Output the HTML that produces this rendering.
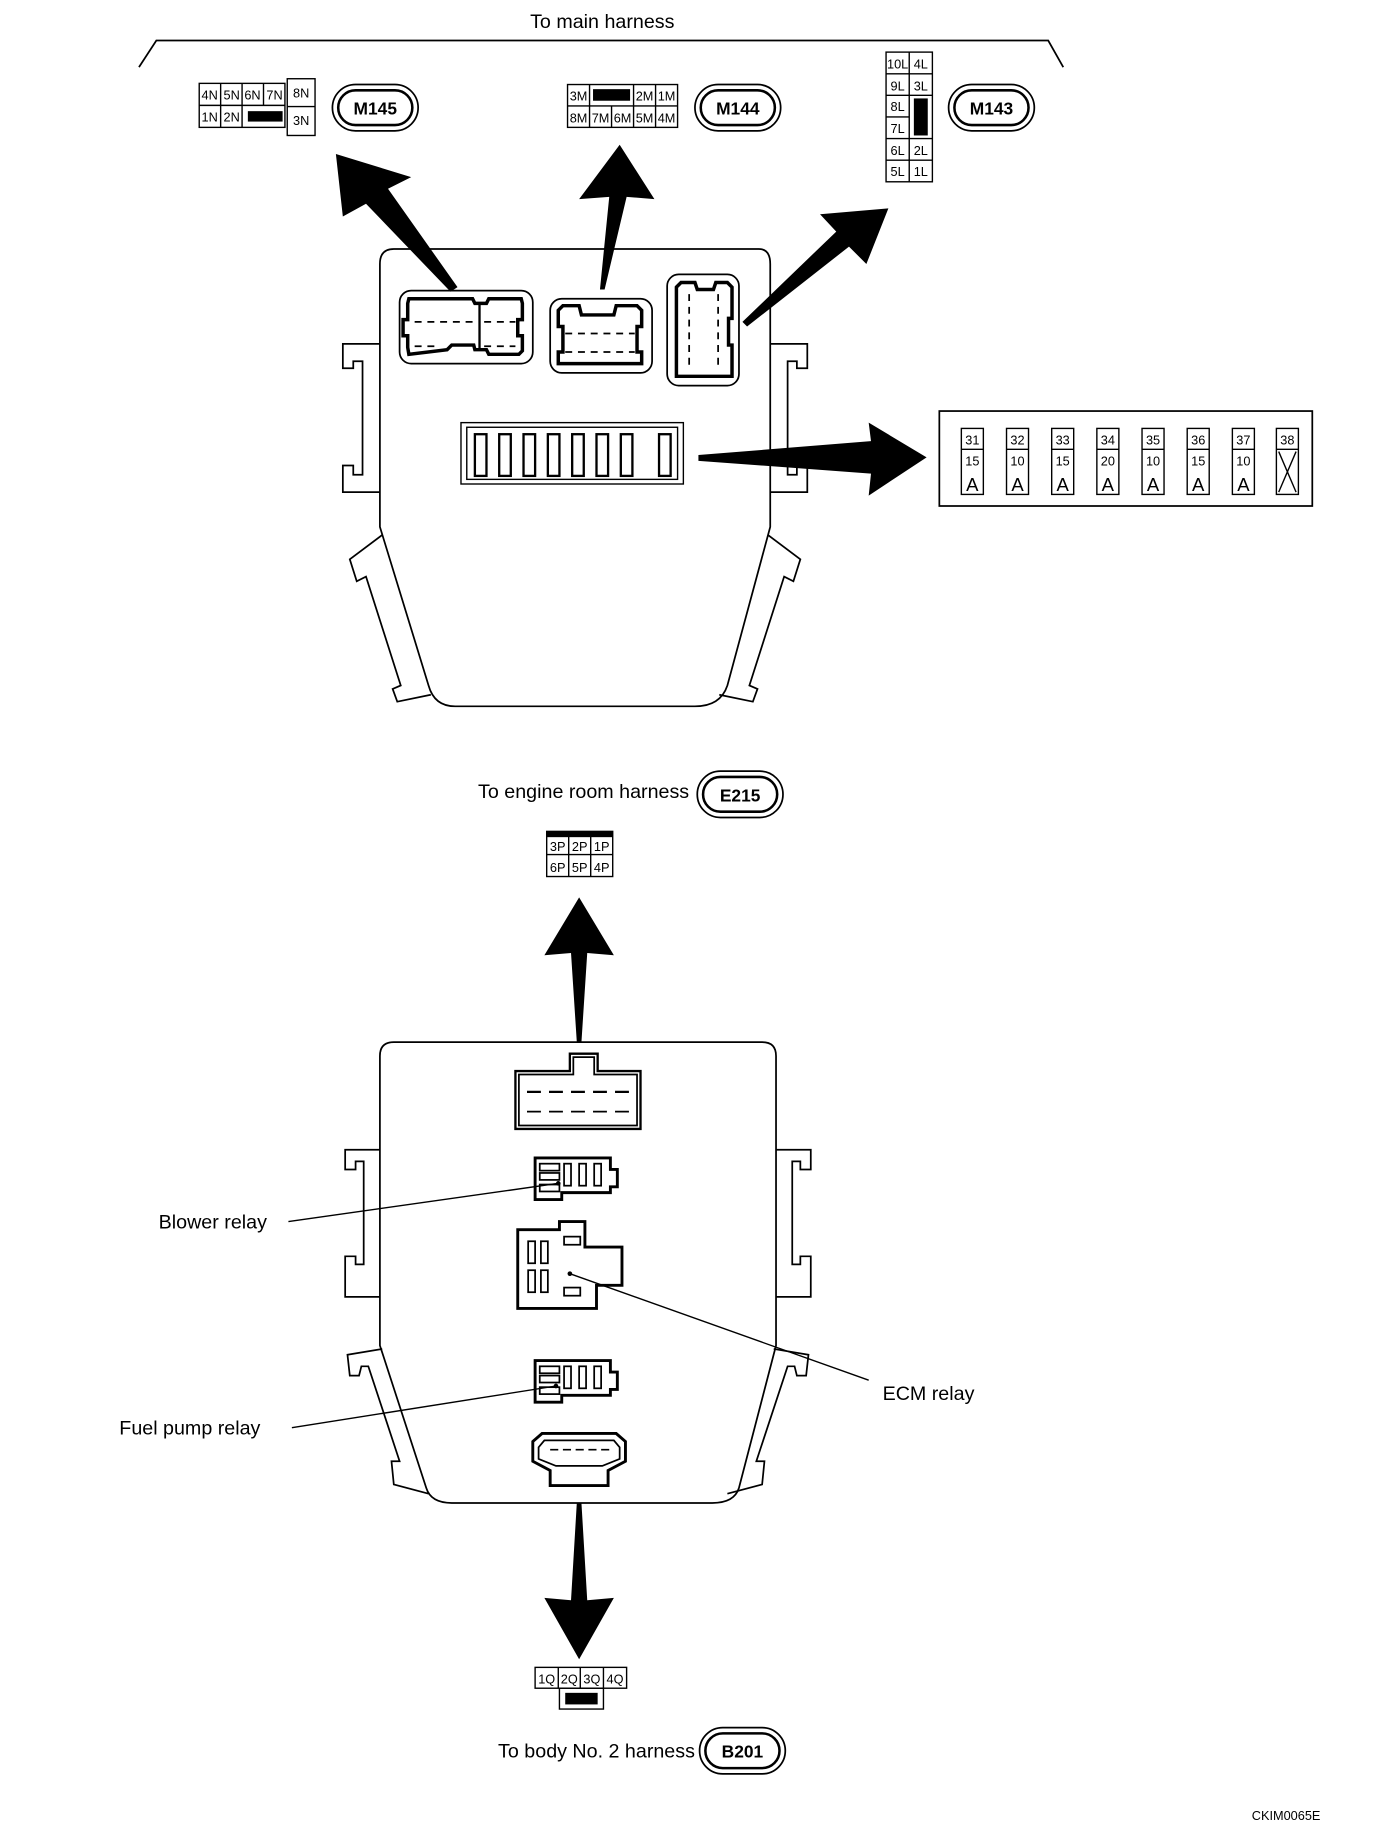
<!DOCTYPE html>
<html><head><meta charset="utf-8"><style>
html,body{margin:0;padding:0;background:#fff}
svg{display:block}
text{font-family:"Liberation Sans",sans-serif;fill:#000}
.c{font-size:11px;text-anchor:middle}
.l{font-size:17px}
</style></head><body>
<svg width="1376" height="1826" viewBox="0 0 1188 1577" preserveAspectRatio="none" xmlns="http://www.w3.org/2000/svg">
<g fill="none" stroke="#000" stroke-width="1.5">
<polyline points="120,58 135,35 905,35 918,58"/>
</g>
<text class="l" x="520" y="24" text-anchor="middle">To main harness</text>

<g fill="none" stroke="#000" stroke-width="1.2">
<rect x="172" y="72" width="74" height="38"/>
<line x1="172" y1="91" x2="246" y2="91"/>
<line x1="190.5" y1="72" x2="190.5" y2="110"/><line x1="209" y1="72" x2="209" y2="110"/><line x1="227.5" y1="72" x2="227.5" y2="91"/>
<rect x="248" y="68" width="24" height="49"/><line x1="248" y1="92" x2="272" y2="92"/>
</g>
<rect x="214" y="96" width="30" height="9" fill="#000"/>
<text class="c" x="181" y="86">4N</text><text class="c" x="200" y="86">5N</text><text class="c" x="218" y="86">6N</text><text class="c" x="237" y="86">7N</text><text class="c" x="260" y="84">8N</text>
<text class="c" x="181" y="105">1N</text><text class="c" x="200" y="105">2N</text><text class="c" x="260" y="108">3N</text>
<g fill="none" stroke="#000" stroke-width="1.2">
<rect x="490" y="73" width="95" height="37"/><line x1="490" y1="91.5" x2="585" y2="91.5"/>
<line x1="509" y1="73" x2="509" y2="110"/><line x1="528" y1="91.5" x2="528" y2="110"/><line x1="547" y1="73" x2="547" y2="110"/><line x1="566" y1="73" x2="566" y2="110"/>
</g>
<rect x="512" y="77" width="32" height="10" fill="#000"/>
<text class="c" x="499.5" y="87">3M</text><text class="c" x="556.5" y="87">2M</text><text class="c" x="575.5" y="87">1M</text>
<text class="c" x="499.5" y="106">8M</text><text class="c" x="518.5" y="106">7M</text><text class="c" x="537.5" y="106">6M</text><text class="c" x="556.5" y="106">5M</text><text class="c" x="575.5" y="106">4M</text>
<g fill="none" stroke="#000" stroke-width="1.2">
<rect x="765" y="45" width="40" height="112"/><line x1="785" y1="45" x2="785" y2="157"/>
<line x1="765" y1="63.7" x2="805" y2="63.7"/><line x1="765" y1="82.3" x2="805" y2="82.3"/><line x1="765" y1="101" x2="785" y2="101"/><line x1="765" y1="119.7" x2="805" y2="119.7"/><line x1="765" y1="138.3" x2="805" y2="138.3"/>
</g>
<rect x="789" y="85" width="12" height="32" fill="#000"/>
<text class="c" x="775" y="59">10L</text><text class="c" x="795" y="59">4L</text>
<text class="c" x="775" y="78">9L</text><text class="c" x="795" y="78">3L</text>
<text class="c" x="775" y="96">8L</text><text class="c" x="775" y="115">7L</text>
<text class="c" x="775" y="134">6L</text><text class="c" x="795" y="134">2L</text>
<text class="c" x="775" y="152">5L</text><text class="c" x="795" y="152">1L</text>

<g fill="none" stroke="#000" stroke-width="1.5">
<rect x="287" y="73" width="74" height="40" rx="20"/><rect x="292" y="78" width="64" height="30" rx="15" stroke-width="2.2"/>
<rect x="600" y="73" width="74" height="40" rx="20"/><rect x="605" y="78" width="64" height="30" rx="15" stroke-width="2.2"/>
<rect x="819" y="73" width="74" height="40" rx="20"/><rect x="824" y="78" width="64" height="30" rx="15" stroke-width="2.2"/>
<rect x="602" y="666" width="74" height="40" rx="20"/><rect x="607" y="671" width="64" height="30" rx="15" stroke-width="2.2"/>
<rect x="604" y="1492" width="74" height="40" rx="20"/><rect x="609" y="1497" width="64" height="30" rx="15" stroke-width="2.2"/>
</g>
<text x="324" y="99" text-anchor="middle" font-weight="bold" font-size="15">M145</text>
<text x="637" y="99" text-anchor="middle" font-weight="bold" font-size="15">M144</text>
<text x="856" y="99" text-anchor="middle" font-weight="bold" font-size="15">M143</text>
<text x="639" y="692" text-anchor="middle" font-weight="bold" font-size="15">E215</text>
<text x="641" y="1518" text-anchor="middle" font-weight="bold" font-size="15">B201</text>

<g fill="#000">
<polygon points="290,133 355,153 335,163 395,248 389,252 316,176 296,187"/>
<polygon points="535,125 565,172 541,170 522,250 518,250 526,170 500,172"/>
<polygon points="767,180 748,228 733,213 645,282 641,278 722,200 708,185"/>
<polygon points="603,393 752,381 750,365 800,395 750,428 752,409 603,398"/>
<polygon points="500,775 530,825 507,823 502,900 498,900 493,823 470,825"/>
<polygon points="500,1433 530,1380 507,1382 502,1298 498,1298 493,1382 470,1380"/>
</g>

<g fill="none" stroke="#000" stroke-width="1.5">
<path d="M340,215 L655,215 Q665,215 665,228 L665,455 L628,592 Q622,610 600,610 L393,610 Q375,610 370,592 L328,455 L328,228 Q328,215 340,215 Z"/>
<path d="M328,297 L296,297 L296,318 L305,318 L305,312 L313,312 L313,410 L305,410 L305,402 L296,402 L296,425 L328,425"/>
<path d="M665,297 L697,297 L697,318 L688,318 L688,312 L680,312 L680,410 L688,410 L688,402 L697,402 L697,425 L665,425"/>
<path d="M330,462 L302,483 L308,502 L316,498 L346,592 L339,595 L343,606 L372,600"/>
<path d="M663,462 L691,483 L685,502 L677,498 L647,592 L654,595 L650,606 L621,600"/>
<rect x="345" y="251" width="115" height="63" rx="10"/>
<path d="M352,262 L353,258 L408,258 L410,262 L420,262 L422,258 L450,258 L451,262 L451,276 L447,276 L447,290 L451,290 L451,303 L448,306 L422,306 L420,302 L410,302 L409,298 L390,298 L386,302 L353,306 L352,300 L352,290 L348,290 L348,276 L352,276 Z" stroke-width="3"/>
<line x1="414" y1="262" x2="414" y2="302" stroke-width="2"/>
<line x1="358" y1="278" x2="408" y2="278" stroke-dasharray="6,5"/><line x1="418" y1="278" x2="445" y2="278" stroke-dasharray="6,5"/>
<line x1="358" y1="299" x2="380" y2="299" stroke-dasharray="6,5"/><line x1="418" y1="299" x2="445" y2="299" stroke-dasharray="6,5"/>
<rect x="475" y="258" width="88" height="64" rx="10"/>
<path d="M482,268 L486,264 L500,264 L502,272 L530,272 L532,264 L550,264 L554,268 L554,282 L550,282 L550,304 L554,304 L554,314 L482,314 L482,304 L486,304 L486,282 L482,282 Z" stroke-width="3"/>
<line x1="488" y1="288" x2="548" y2="288" stroke-dasharray="6,5"/><line x1="488" y1="304" x2="548" y2="304" stroke-dasharray="6,5"/>
<rect x="576" y="237" width="62" height="96" rx="10"/>
<path d="M584,248 L588,244 L600,244 L602,250 L616,250 L618,244 L628,244 L632,248 L632,275 L629,275 L629,298 L632,298 L632,325 L584,325 Z" stroke-width="3"/>
<line x1="595" y1="254" x2="595" y2="318" stroke-dasharray="6,5"/><line x1="620" y1="254" x2="620" y2="318" stroke-dasharray="6,5"/>
<rect x="398" y="365" width="192" height="53" stroke-width="1.2"/>
<rect x="403" y="369" width="182" height="45" stroke-width="1.2"/>
<g stroke-width="2">
<rect x="410" y="375" width="10" height="36"/><rect x="431" y="375" width="10" height="36"/><rect x="452" y="375" width="10" height="36"/><rect x="473" y="375" width="10" height="36"/>
<rect x="494" y="375" width="10" height="36"/><rect x="515" y="375" width="10" height="36"/><rect x="536" y="375" width="10" height="36"/><rect x="569" y="375" width="10" height="36"/>
</g>
<rect x="811" y="355" width="322" height="82" stroke-width="1.5"/>
</g>
<g fill="none" stroke="#000" stroke-width="1.2">
<rect x="830" y="370" width="19" height="57"/><line x1="830" y1="388" x2="849" y2="388"/>
<rect x="869" y="370" width="19" height="57"/><line x1="869" y1="388" x2="888" y2="388"/>
<rect x="908" y="370" width="19" height="57"/><line x1="908" y1="388" x2="927" y2="388"/>
<rect x="947" y="370" width="19" height="57"/><line x1="947" y1="388" x2="966" y2="388"/>
<rect x="986" y="370" width="19" height="57"/><line x1="986" y1="388" x2="1005" y2="388"/>
<rect x="1025" y="370" width="19" height="57"/><line x1="1025" y1="388" x2="1044" y2="388"/>
<rect x="1064" y="370" width="19" height="57"/><line x1="1064" y1="388" x2="1083" y2="388"/>
<rect x="1102" y="370" width="19" height="57"/><line x1="1102" y1="388" x2="1121" y2="388"/>
<line x1="1104" y1="390" x2="1119" y2="425"/><line x1="1119" y1="390" x2="1104" y2="425"/>
</g>
<text class="c" x="839.5" y="384">31</text><text class="c" x="839.5" y="402">15</text><text x="839.5" y="424" font-size="16" text-anchor="middle">A</text>
<text class="c" x="878.5" y="384">32</text><text class="c" x="878.5" y="402">10</text><text x="878.5" y="424" font-size="16" text-anchor="middle">A</text>
<text class="c" x="917.5" y="384">33</text><text class="c" x="917.5" y="402">15</text><text x="917.5" y="424" font-size="16" text-anchor="middle">A</text>
<text class="c" x="956.5" y="384">34</text><text class="c" x="956.5" y="402">20</text><text x="956.5" y="424" font-size="16" text-anchor="middle">A</text>
<text class="c" x="995.5" y="384">35</text><text class="c" x="995.5" y="402">10</text><text x="995.5" y="424" font-size="16" text-anchor="middle">A</text>
<text class="c" x="1034.5" y="384">36</text><text class="c" x="1034.5" y="402">15</text><text x="1034.5" y="424" font-size="16" text-anchor="middle">A</text>
<text class="c" x="1073.5" y="384">37</text><text class="c" x="1073.5" y="402">10</text><text x="1073.5" y="424" font-size="16" text-anchor="middle">A</text>
<text class="c" x="1111.5" y="384">38</text>

<text class="l" x="595" y="689" text-anchor="end">To engine room harness</text>
<rect x="472" y="718" width="57" height="5" fill="#000"/>
<g fill="none" stroke="#000" stroke-width="1.2">
<rect x="472" y="718" width="57" height="39"/><line x1="472" y1="738" x2="529" y2="738"/>
<line x1="491" y1="722" x2="491" y2="757"/><line x1="510" y1="722" x2="510" y2="757"/>
</g>
<text class="c" x="481.5" y="735">3P</text><text class="c" x="500.5" y="735">2P</text><text class="c" x="519.5" y="735">1P</text>
<text class="c" x="481.5" y="753">6P</text><text class="c" x="500.5" y="753">5P</text><text class="c" x="519.5" y="753">4P</text>

<g fill="none" stroke="#000" stroke-width="1.5">
<path d="M340,900 L658,900 Q670,900 670,912 L670,1162 L638,1285 Q634,1298 615,1298 L390,1298 Q372,1298 368,1285 L328,1162 L328,912 Q328,900 340,900 Z"/>
<path d="M328,993 L298,993 L298,1010 L307,1010 L307,1003 L314,1003 L314,1092 L307,1092 L307,1085 L298,1085 L298,1120 L328,1120"/>
<path d="M670,993 L700,993 L700,1010 L691,1010 L691,1003 L684,1003 L684,1092 L691,1092 L691,1085 L700,1085 L700,1120 L670,1120"/>
<path d="M330,1165 L300,1170 L302,1188 L310,1188 L312,1180 L318,1180 L345,1262 L338,1262 L340,1282 L370,1290"/>
<path d="M668,1165 L698,1170 L696,1188 L688,1188 L686,1180 L680,1180 L653,1262 L660,1262 L658,1282 L628,1290"/>
<path d="M445,925 L492,925 L492,910 L516,910 L516,925 L553,925 L553,975 L445,975 Z" stroke-width="2"/>
<path d="M448,928 L495,928 L495,913 L513,913 L513,928 L550,928 L550,972 L448,972 Z"/>
<line x1="455" y1="943" x2="545" y2="943" stroke-width="2" stroke-dasharray="12,7"/>
<line x1="455" y1="960" x2="545" y2="960" stroke-dasharray="12,7"/>
<path d="M462,1000 L527,1000 L527,1010 L533,1010 L533,1025 L527,1025 L527,1030 L485,1030 L485,1036 L462,1036 Z" stroke-width="2.5"/>
<rect x="466" y="1005" width="17" height="6"/><rect x="466" y="1013" width="17" height="6"/><rect x="466" y="1023" width="17" height="6"/>
<rect x="487" y="1005" width="6" height="19"/><rect x="500" y="1005" width="6" height="19"/><rect x="513" y="1005" width="6" height="19"/>
<path d="M447,1062 L483,1062 L483,1055 L505,1055 L505,1077 L537,1077 L537,1110 L515,1110 L515,1130 L447,1130 Z" stroke-width="2.5"/>
<rect x="456" y="1072" width="6" height="19"/><rect x="467" y="1072" width="6" height="19"/><rect x="456" y="1097" width="6" height="19"/><rect x="467" y="1097" width="6" height="19"/>
<rect x="487" y="1068" width="14" height="7"/><rect x="487" y="1112" width="14" height="7"/>
<path d="M462,1175 L527,1175 L527,1185 L533,1185 L533,1200 L527,1200 L527,1205 L485,1205 L485,1211 L462,1211 Z" stroke-width="2.5"/>
<rect x="466" y="1180" width="17" height="6"/><rect x="466" y="1188" width="17" height="6"/><rect x="466" y="1198" width="17" height="6"/>
<rect x="487" y="1180" width="6" height="19"/><rect x="500" y="1180" width="6" height="19"/><rect x="513" y="1180" width="6" height="19"/>
<path d="M468,1238 L532,1238 L540,1245 L540,1262 L525,1270 L525,1283 L475,1283 L475,1270 L460,1262 L460,1245 Z" stroke-width="2.5"/>
<path d="M470,1244 L530,1244 L535,1250 L535,1260 L520,1266 L480,1266 L465,1260 L465,1250 Z"/>
<line x1="475" y1="1252" x2="528" y2="1252" stroke-dasharray="7,4"/>
<line x1="249" y1="1055" x2="482" y2="1022" stroke-width="1.2"/>
<line x1="750" y1="1192" x2="492" y2="1100" stroke-width="1.2"/>
<line x1="252" y1="1233" x2="480" y2="1197" stroke-width="1.2"/>
</g>
<circle cx="482" cy="1022" r="2" fill="#000"/><circle cx="492" cy="1100" r="2" fill="#000"/><circle cx="480" cy="1197" r="2" fill="#000"/>
<text class="l" x="137" y="1061">Blower relay</text>
<text class="l" x="762" y="1209">ECM relay</text>
<text class="l" x="103" y="1239">Fuel pump relay</text>

<g fill="none" stroke="#000" stroke-width="1.2">
<rect x="462" y="1440" width="79" height="18"/>
<line x1="482" y1="1440" x2="482" y2="1458"/><line x1="501" y1="1440" x2="501" y2="1458"/><line x1="521" y1="1440" x2="521" y2="1458"/>
<rect x="483" y="1458" width="38" height="18"/>
</g>
<rect x="488" y="1462" width="28" height="10" fill="#000"/>
<text class="c" x="472" y="1454">1Q</text><text class="c" x="491.5" y="1454">2Q</text><text class="c" x="511" y="1454">3Q</text><text class="c" x="531" y="1454">4Q</text>
<text class="l" x="600" y="1518" text-anchor="end">To body No. 2 harness</text>
<text x="1140" y="1572" font-size="11" text-anchor="end">CKIM0065E</text>
</svg>
</body></html>
